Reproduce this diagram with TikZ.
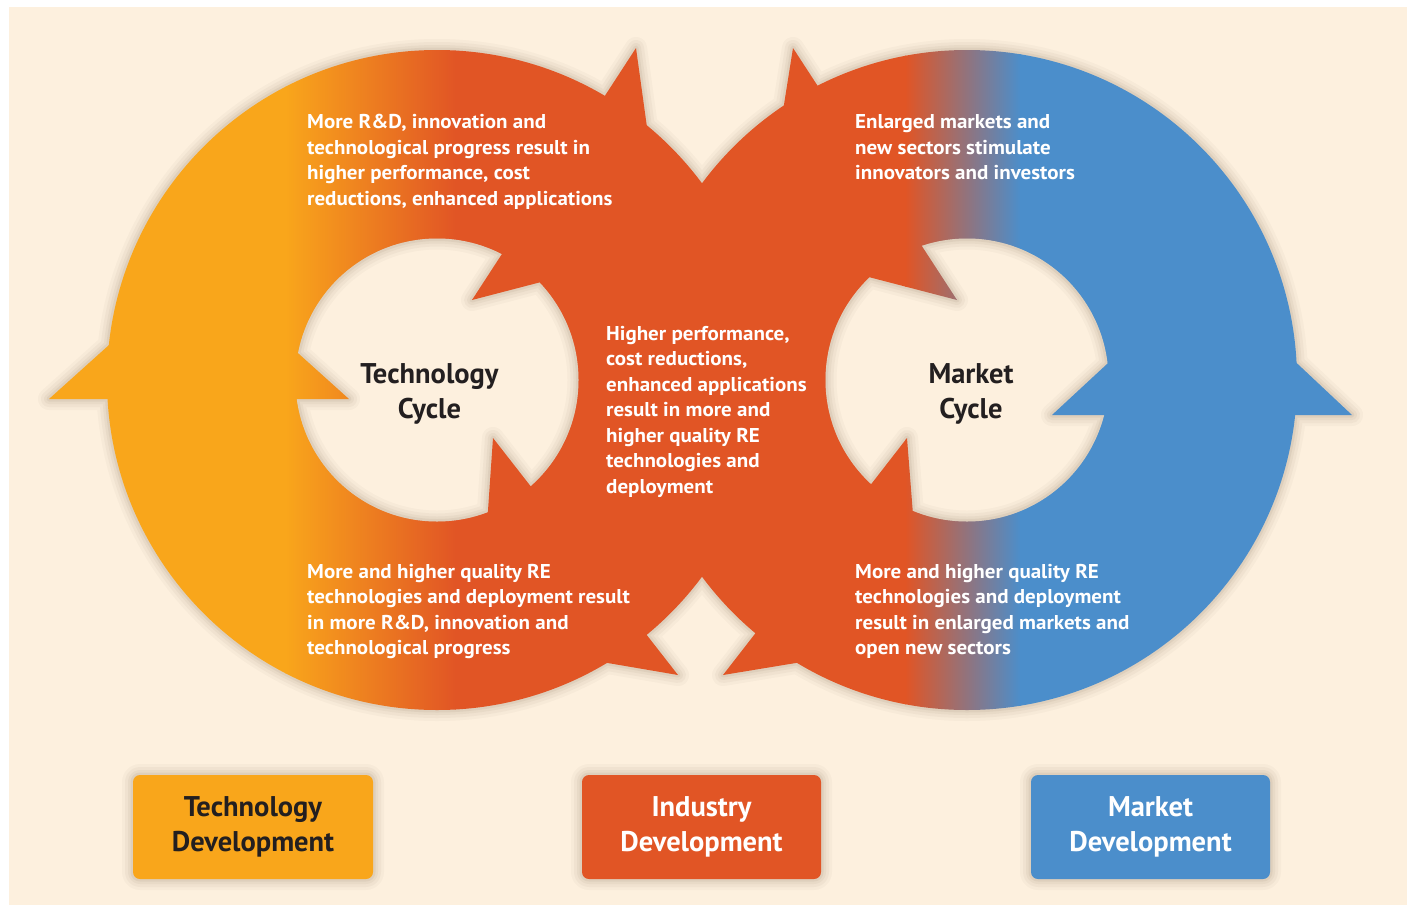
\documentclass[tikz,border=0pt]{standalone}
\usepackage{fontspec}
\setmainfont{PT Sans}
\newfontfamily\bodyfont[FakeStretch=1.05]{PT Sans}
\definecolor{bg}{RGB}{253,240,222}
\definecolor{cy}{RGB}{249,166,27}
\definecolor{cr}{RGB}{225,85,37}
\definecolor{cb}{RGB}{75,142,203}
\definecolor{dk}{RGB}{35,31,32}
\definecolor{sh}{RGB}{110,90,70}
\newcommand\paintgrad{%
  \fill[cy] (0,0) rectangle (286,905);
  \shade[left color=cy,right color=cr] (285,0) rectangle (456,905);
  \fill[cr] (455,0) rectangle (906,905);
  \shade[left color=cr,right color=cb] (905,0) rectangle (1021,905);
  \fill[cb] (1020,0) rectangle (1413,905);}
\newcommand\glow[1]{%
  \foreach \w/\o in {22/0.04,16/0.05,10/0.06,5/0.08}{%
    \draw[sh,line width=\w pt,opacity=\o,line join=round] #1;}}
\newcommand\tris{(t1a)--(t1b)--(t1c)--cycle (t2a)--(t2b)--(t2c)--cycle
  (t3a)--(t3b)--(t3c)--cycle (t4a)--(t4b)--(t4c)--cycle
  (t5a)--(t5b)--(t5c)--cycle (t6a)--(t6b)--(t6c)--cycle}
\tikzset{
  blk/.style={anchor=base west,inner sep=0pt,text=white,
    font=\bodyfont\bfseries\fontsize{20}{25.5}\selectfont},
  cyc/.style={inner sep=0pt,text=dk,align=center,
    font=\bfseries\fontsize{28.5}{35}\selectfont},
  devbox/.style={inner sep=0pt,align=center,minimum width=240pt,
    minimum height=104pt,rounded corners=7pt,
    font=\bfseries\fontsize{28.5}{35}\selectfont},
}
\begin{document}
\begin{tikzpicture}[x=1pt,y=-1pt]
\useasboundingbox (0,0) rectangle (1413,905);
\fill[white] (0,0) rectangle (1413,905);
\fill[bg] (9,7) rectangle (1407,905);
% centres
\coordinate (cL) at (437,380);
\coordinate (cR) at (967,380);
% arrow heads: outer tip, inner tip, apex
\coordinate (t1a) at (49,399);   \coordinate (t1b) at (349,399);  \coordinate (t1c) at (199,264);
\coordinate (t2a) at (636,48);   \coordinate (t2b) at (472,300);  \coordinate (t2c) at (664,250);
\coordinate (t3a) at (678,675);  \coordinate (t3b) at (493,438);  \coordinate (t3c) at (479,641);
\coordinate (t4a) at (1352,415); \coordinate (t4b) at (1052,415); \coordinate (t4c) at (1203,275);
\coordinate (t5a) at (793,48);   \coordinate (t5b) at (957,300);  \coordinate (t5c) at (761,249);
\coordinate (t6a) at (723,675);  \coordinate (t6b) at (907,438);  \coordinate (t6c) at (923,642);
% outer shadow
\glow{(cL) circle (330pt) (cR) circle (330pt) \tris}
% rings
\begin{scope}\clip (cL) circle (330pt); \paintgrad\end{scope}
\begin{scope}\clip (cR) circle (330pt); \paintgrad\end{scope}
\fill[bg] (cL) circle (141.5pt) (cR) circle (141.5pt);
\begin{scope}
  \clip (cL) circle (141.5pt) (cR) circle (141.5pt);
  \glow{(cL) circle (141.5pt) (cR) circle (141.5pt) \tris}
\end{scope}
\begin{scope}\clip \tris; \paintgrad\end{scope}
% texts on the rings
\node[blk] (b1) at (307,128.5) {\parbox[t]{400pt}{\raggedright
  More R\&D, innovation and\\technological progress result in\\
  higher performance, cost\\reductions, enhanced applications}};
\node[blk] (b2) at (855,128.5) {\parbox[t]{400pt}{\raggedright
  Enlarged markets and\\new sectors stimulate\\innovators and investors}};
\node[blk] (b3) at (606,340) {\parbox[t]{300pt}{\raggedright
  Higher performance,\\cost reductions,\\enhanced applications\\
  result in more and\\higher quality RE\\technologies and\\deployment}};
\node[blk] (b4) at (307,578) {\parbox[t]{400pt}{\raggedright
  More and higher quality RE\\technologies and deployment result\\
  in more R\&D, innovation and\\technological progress}};
\node[blk] (b5) at (855,578) {\parbox[t]{400pt}{\raggedright
  More and higher quality RE\\technologies and deployment\\
  result in enlarged markets and\\open new sectors}};
% cycle labels
\node[cyc] (tc) at (429.5,393.5) {\strut Technology\\\strut Cycle};
\node[cyc] (mc) at (971,393.5) {\strut Market\\\strut Cycle};
% boxes
\glow{[rounded corners=7pt] (133,775) rectangle (373,879)}
\glow{[rounded corners=7pt] (582,775) rectangle (821,879)}
\glow{[rounded corners=7pt] (1031,775) rectangle (1270,879)}
\node[devbox,fill=cy,text=dk] (td) at (253,827) {\strut Technology\\\strut Development};
\node[devbox,fill=cr,text=white,minimum width=239pt] (id) at (701.5,827) {\strut Industry\\\strut Development};
\node[devbox,fill=cb,text=white,minimum width=239pt] (md) at (1150.5,827) {\strut Market\\\strut Development};
\end{tikzpicture}
\end{document}
